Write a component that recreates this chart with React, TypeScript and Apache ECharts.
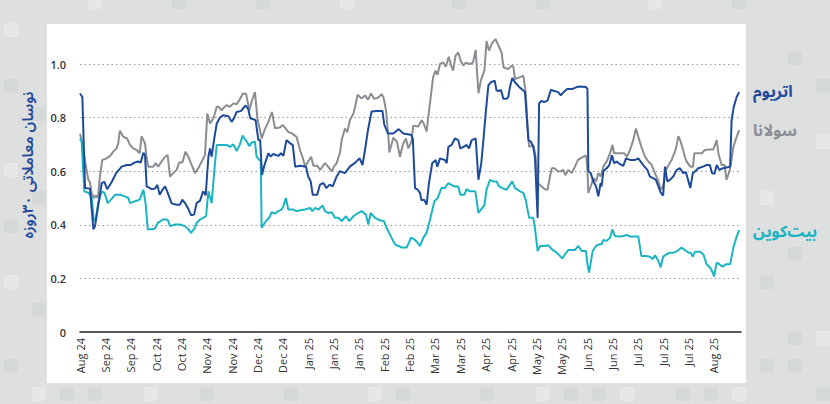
import React, { useEffect, useRef } from 'react';
import * as echarts from 'echarts';

// x axis: day index from the first observation; a tick label every 14 days
const xTickLabels = [
  'Aug 24', 'Sep 24', 'Sep 24', 'Oct 24', 'Oct 24', 'Nov 24', 'Nov 24', 'Dec 24', 'Dec 24',
  'Jan 25', 'Jan 25', 'Jan 25', 'Feb 25', 'Feb 25', 'Mar 25', 'Mar 25', 'Apr 25', 'Apr 25',
  'May 25', 'May 25', 'Jun 25', 'Jun 25', 'Jul 25', 'Jul 25', 'Jul 25', 'Aug 25',
];
const tickStepDays = 14;
const lastDay = 365;

const yTitle = 'نوسان معاملاتی ۳۰روزه';
const seriesNames = ['اتریوم', 'سولانا', 'بیت‌کوین'];

// اتریوم
const ethData: [number, number][] = [
  [0, 0.89], [1.3, 0.877], [2.8, 0.537], [5.5, 0.535], [7.4, 0.383], [8.3, 0.395], [12, 0.556], [13.5, 0.56],
  [15, 0.533], [17.5, 0.56], [20, 0.593], [23, 0.617], [25.8, 0.623], [28, 0.623], [30, 0.632], [32, 0.636],
  [33.5, 0.632], [35, 0.669], [35.9, 0.66], [36.8, 0.543], [39.6, 0.533], [41.4, 0.535], [42.7, 0.549], [44, 0.512],
  [45.5, 0.53], [47, 0.543], [48.4, 0.52], [50.6, 0.48], [53.4, 0.475], [55.2, 0.475], [56.5, 0.494], [58, 0.481],
  [60, 0.457], [61.3, 0.436], [63, 0.438], [64.4, 0.481], [66.3, 0.49], [68, 0.525], [69.4, 0.51], [70.9, 0.654],
  [71.8, 0.685], [72.7, 0.654], [74, 0.716], [75.5, 0.778], [77.3, 0.8], [79, 0.809], [82, 0.805], [83.7, 0.784],
  [85.2, 0.8], [86.5, 0.821], [89, 0.825], [90.7, 0.84], [91.5, 0.845], [93, 0.83], [94, 0.797], [95.7, 0.794],
  [97, 0.79], [98.5, 0.716], [99.5, 0.716], [100.5, 0.586], [101.6, 0.617], [104, 0.667], [105.3, 0.655], [106.8, 0.664],
  [109.5, 0.657], [111, 0.667], [112.3, 0.657], [114, 0.716], [116, 0.704], [117.5, 0.698], [118.8, 0.617], [121.5, 0.62],
  [124.8, 0.617], [126, 0.58], [127.4, 0.562], [128.5, 0.512], [131, 0.512], [132.5, 0.55], [134.4, 0.556], [136, 0.537],
  [137.8, 0.55], [139.5, 0.543], [141.7, 0.58], [143.5, 0.6], [146.3, 0.593], [149, 0.617], [152, 0.632], [154.4, 0.648],
  [156, 0.623], [157.4, 0.68], [159, 0.753], [161, 0.823], [163.7, 0.825], [167, 0.825], [168, 0.775], [170, 0.741],
  [173, 0.741], [176, 0.757], [178.5, 0.741], [181, 0.738], [183, 0.735], [183.8, 0.72], [185, 0.537], [186.5, 0.531],
  [187.7, 0.519], [188.6, 0.491], [190, 0.494], [191.4, 0.475], [192.7, 0.556], [194.5, 0.63], [196.4, 0.642], [197.3, 0.617],
  [198.8, 0.648], [201.5, 0.642], [202.5, 0.63], [203.4, 0.691], [205.2, 0.698], [207, 0.722], [208.9, 0.716], [210, 0.685],
  [211.8, 0.691], [213.5, 0.698], [214.8, 0.685], [216.3, 0.716], [218.5, 0.722], [220, 0.568], [221.6, 0.63], [223, 0.735],
  [224, 0.815], [225.5, 0.92], [227, 0.932], [229, 0.938], [230, 0.901], [231.3, 0.899], [232.4, 0.904], [233.8, 0.87],
  [235.6, 0.87], [236.5, 0.877], [237.4, 0.914], [238.7, 0.948], [240.2, 0.932], [243, 0.911], [244.8, 0.901], [245.7, 0.895],
  [247.6, 0.716], [249, 0.71], [250.3, 0.691], [251.2, 0.654], [252.7, 0.426], [253.5, 0.852], [254.6, 0.862], [256.4, 0.858],
  [258.2, 0.864], [260, 0.904], [261.9, 0.899], [264, 0.895], [265.5, 0.883], [267, 0.895], [269, 0.907], [272, 0.907],
  [274.3, 0.914], [276, 0.916], [279.4, 0.914], [280.2, 0.907], [280.7, 0.6], [282, 0.593], [283.5, 0.562], [285, 0.543],
  [286.2, 0.506], [287.5, 0.556], [288, 0.543], [289, 0.6], [290.8, 0.611], [292.3, 0.623], [293.8, 0.66], [294.9, 0.63],
  [296.4, 0.636], [298, 0.627], [300, 0.62], [301.5, 0.648], [303.7, 0.642], [306.5, 0.642], [308.3, 0.648], [309.6, 0.636],
  [311, 0.623], [313.3, 0.605], [314.7, 0.58], [316.5, 0.574], [318, 0.568], [319.4, 0.543], [320.6, 0.521], [322, 0.509],
  [323, 0.617], [324.3, 0.562], [325.8, 0.568], [327.6, 0.58], [329.5, 0.605], [331.3, 0.611], [333.1, 0.593], [334.6, 0.596],
  [336, 0.562], [337, 0.537], [338.4, 0.593], [339.6, 0.599], [341.4, 0.611], [344, 0.617], [346, 0.623], [347.8, 0.623],
  [349, 0.593], [350.3, 0.59], [351.6, 0.623], [353, 0.605], [355, 0.611], [357, 0.614], [359, 0.617], [359.8, 0.79],
  [361, 0.84], [362.6, 0.877], [364, 0.895],
];

// سولانا
const solData: [number, number][] = [
  [0, 0.74], [1.5, 0.7], [3, 0.63], [4.6, 0.568], [5.5, 0.56], [6.4, 0.519], [7.7, 0.5], [8.7, 0.51], [9.8, 0.5],
  [11, 0.58], [12.3, 0.642], [14.7, 0.648], [16.6, 0.657], [18.4, 0.673], [20.2, 0.685], [21.1, 0.704], [22, 0.751],
  [24, 0.728], [26, 0.722], [27.6, 0.698], [29.4, 0.685], [31.3, 0.679], [33, 0.667], [34, 0.731], [35.9, 0.704],
  [36.8, 0.65], [37.7, 0.617], [40.5, 0.617], [41.8, 0.63], [43.2, 0.617], [45, 0.636], [47, 0.654], [48.4, 0.66],
  [49.7, 0.58], [51.5, 0.593], [53.4, 0.605], [54.7, 0.632], [56.5, 0.632], [58.3, 0.673], [59.8, 0.654], [61.7, 0.623],
  [63.5, 0.593], [65.3, 0.611], [67.2, 0.636], [69, 0.66], [70.3, 0.815], [71.8, 0.778], [73.6, 0.796], [75.5, 0.84],
  [76.4, 0.842], [78.2, 0.827], [79.5, 0.838], [81, 0.847], [82.5, 0.84], [84.7, 0.853], [86.5, 0.85], [88, 0.865],
  [90, 0.89], [91.7, 0.889], [93.5, 0.827], [94.8, 0.86], [96.6, 0.895], [98, 0.796], [99.4, 0.753], [100.3, 0.722],
  [102, 0.755], [104, 0.784], [106, 0.821], [107.7, 0.76], [110.4, 0.763], [112, 0.772], [113.5, 0.76], [115, 0.747],
  [117, 0.741], [119.6, 0.728], [121.5, 0.679], [123.3, 0.644], [124.3, 0.617], [126, 0.636], [127.6, 0.654], [128.9, 0.62],
  [131, 0.62], [132.6, 0.605], [135.3, 0.63], [137, 0.617], [139, 0.599], [140.3, 0.618], [141.7, 0.63], [143.6, 0.67],
  [144.5, 0.716], [146.3, 0.759], [147.6, 0.745], [149, 0.79], [151, 0.815], [152.2, 0.85], [153.3, 0.885], [155.5, 0.871],
  [157.4, 0.883], [159, 0.867], [160.7, 0.89], [162.5, 0.87], [164.7, 0.875], [166.6, 0.887], [167.6, 0.875], [169, 0.827],
  [170.3, 0.728], [170.8, 0.67], [173, 0.725], [175, 0.71], [176.7, 0.654], [178.2, 0.698], [180, 0.722], [181.3, 0.685],
  [183, 0.71], [184, 0.77], [186.8, 0.767], [188.7, 0.79], [190, 0.775], [191.4, 0.748], [193, 0.84], [195, 0.951],
  [196.3, 0.975], [197.4, 0.96], [198.8, 1.0], [200.6, 1.006], [202, 0.99], [203.6, 1.027], [204.7, 1.0], [206, 0.975],
  [207.4, 1.031], [208.9, 1.043], [210.3, 1.01], [211.7, 0.994], [213, 1.005], [215.3, 1.0], [217, 1.005], [218.5, 1.052],
  [220, 0.891], [221.4, 0.94], [223.3, 0.975], [224.5, 1.086], [225.8, 1.05], [227.7, 1.08], [229.5, 1.093], [231, 1.07],
  [232.8, 1.043], [233.8, 0.988], [236.5, 0.981], [238.4, 0.994], [239.3, 0.99], [240.2, 0.944], [243, 0.951], [244.8, 0.957],
  [246.1, 0.895], [247.2, 0.765], [248, 0.691], [250.3, 0.698], [251.6, 0.654], [252.7, 0.556], [255, 0.543], [256.7, 0.533],
  [258.2, 0.531], [259.5, 0.58], [260.5, 0.611], [262, 0.611], [264, 0.599], [265.5, 0.6], [266.9, 0.605], [268, 0.585],
  [269.7, 0.605], [271.5, 0.593], [273.3, 0.617], [275, 0.642], [278, 0.654], [279.5, 0.658], [280.2, 0.605], [280.7, 0.519],
  [282, 0.543], [283.5, 0.574], [285, 0.562], [286.2, 0.593], [287.5, 0.58], [289, 0.617], [290.8, 0.636], [292.7, 0.667],
  [294, 0.698], [294.9, 0.667], [297, 0.667], [299, 0.667], [300.5, 0.667], [302, 0.654], [303.7, 0.679], [305.5, 0.716],
  [307, 0.759], [308.3, 0.728], [310, 0.691], [312, 0.654], [313.8, 0.636], [315.7, 0.623], [317.5, 0.593], [319.4, 0.562],
  [320.6, 0.531], [322, 0.543], [323.6, 0.605], [325, 0.623], [326.7, 0.642], [328.5, 0.673], [329.5, 0.698], [330.4, 0.731],
  [331.7, 0.71], [332.8, 0.685], [334, 0.654], [335, 0.636], [337, 0.617], [338.5, 0.617], [339.2, 0.667], [341, 0.667],
  [343.4, 0.667], [345, 0.679], [347.4, 0.681], [349.7, 0.681], [351.6, 0.716], [352.5, 0.667], [354.3, 0.623], [356, 0.623],
  [357, 0.568], [358.6, 0.599], [359.3, 0.623], [360.8, 0.691], [362.6, 0.728], [364, 0.753],
];

// بیت‌کوین
const btcData: [number, number][] = [
  [0, 0.722], [0.9, 0.71], [2.4, 0.525], [4.6, 0.519], [6.4, 0.506], [7.7, 0.414], [8.7, 0.42], [10, 0.481], [12, 0.525],
  [13.5, 0.519], [15.3, 0.481], [17.1, 0.494], [19.3, 0.512], [22, 0.512], [24.8, 0.506], [26.7, 0.5], [27.6, 0.481],
  [30.4, 0.488], [33, 0.494], [35, 0.531], [36.3, 0.475], [37.4, 0.383], [39.6, 0.383], [41.4, 0.386], [42.9, 0.407],
  [44.7, 0.414], [45.5, 0.42], [47.9, 0.42], [48.8, 0.414], [49.7, 0.395], [52.5, 0.401], [55.2, 0.401], [58, 0.395],
  [59.8, 0.383], [61.3, 0.37], [63.2, 0.386], [64.4, 0.407], [66.3, 0.42], [68, 0.426], [69.6, 0.432], [70.9, 0.525],
  [72.7, 0.481], [74.2, 0.605], [75.5, 0.698], [78.2, 0.698], [81, 0.698], [82.8, 0.691], [84.7, 0.7], [86.5, 0.675],
  [88.3, 0.7], [89.8, 0.733], [91, 0.72], [92, 0.712], [93.5, 0.693], [94.8, 0.707], [96.6, 0.71], [97.5, 0.654],
  [99, 0.642], [99.8, 0.64], [100.3, 0.389], [102.7, 0.414], [104.5, 0.426], [105.8, 0.447], [107.7, 0.442], [109.5, 0.451],
  [111.3, 0.457], [112.3, 0.469], [113.7, 0.5], [115, 0.457], [117.8, 0.457], [119.6, 0.451], [121.5, 0.454], [124.3, 0.457],
  [127, 0.463], [128.3, 0.451], [129.8, 0.463], [131.6, 0.457], [134, 0.472], [135.3, 0.451], [137, 0.444], [139, 0.447],
  [140.8, 0.426], [142.6, 0.426], [144.5, 0.414], [146.9, 0.432], [148.7, 0.414], [151, 0.432], [153, 0.442], [155.5, 0.451],
  [157.9, 0.438], [159.2, 0.401], [160.5, 0.444], [162.9, 0.426], [165.6, 0.417], [167.8, 0.414], [169.7, 0.383], [172, 0.352],
  [173.9, 0.327], [175.8, 0.321], [177.6, 0.315], [180.4, 0.315], [182.8, 0.352], [184.6, 0.346], [186.4, 0.333], [187.7, 0.321],
  [189.6, 0.352], [191.4, 0.37], [193.3, 0.42], [195.7, 0.488], [197.5, 0.5], [199.6, 0.537], [201.6, 0.537], [203.4, 0.556],
  [205, 0.549], [207, 0.543], [208.9, 0.543], [210, 0.512], [212.2, 0.512], [213.5, 0.533], [215.3, 0.525], [218.3, 0.525],
  [220, 0.444], [221.4, 0.457], [223.3, 0.472], [224.5, 0.531], [226.4, 0.568], [228.2, 0.562], [230, 0.562], [231.4, 0.543],
  [233.2, 0.537], [235.6, 0.531], [237.4, 0.549], [238.7, 0.562], [240.2, 0.537], [243, 0.525], [244.8, 0.519], [246.1, 0.494],
  [248, 0.426], [250.3, 0.426], [251.3, 0.383], [252.7, 0.302], [254, 0.321], [256.7, 0.321], [258.5, 0.324], [260.5, 0.309],
  [263.2, 0.296], [265, 0.284], [266.4, 0.274], [267.8, 0.29], [269.7, 0.306], [273.3, 0.306], [275.2, 0.321], [277, 0.302],
  [279.4, 0.302], [280.2, 0.253], [281.1, 0.222], [282, 0.259], [283.1, 0.302], [285, 0.321], [286.8, 0.327], [288, 0.327],
  [289, 0.343], [290.8, 0.34], [292.7, 0.352], [294, 0.383], [295.4, 0.358], [298, 0.356], [300, 0.358], [301.9, 0.362],
  [304, 0.356], [306.5, 0.356], [308.3, 0.356], [310, 0.284], [312.5, 0.284], [314.7, 0.281], [316.2, 0.272], [317.5, 0.286],
  [319.4, 0.265], [320.6, 0.241], [322, 0.281], [323.9, 0.29], [325.8, 0.296], [327.7, 0.296], [329.8, 0.302], [332.2, 0.315],
  [334, 0.306], [336, 0.296], [337.3, 0.296], [338.3, 0.281], [339.6, 0.299], [342.3, 0.299], [344.2, 0.29], [346, 0.253],
  [347.9, 0.241], [349.4, 0.222], [350.1, 0.207], [351.6, 0.259], [353, 0.253], [354.8, 0.244], [356.7, 0.253], [359, 0.253],
  [360.8, 0.315], [362.6, 0.356], [364, 0.38],
];

const ETH_COLOR = '#1e4a9a';
const SOL_COLOR = '#8a8d91';
const BTC_COLOR = '#1bb4c3';
const ARABIC_FONT = "'Noto Sans Arabic', Vazirmatn, 'DejaVu Sans', sans-serif";
const LATIN_FONT = "'Open Sans', 'Noto Sans', sans-serif";

// decorative background squares (column, row) on a 28px grid
const bgSquares: [number, number][] = [
  [0, 0], [0, 2], [1, 3], [0, 5], [1, 6], [0, 7], [0, 9], [1, 10], [0, 12], [1, 13],
  [2, 13], [3, 13], [5, 13], [7, 13], [10, 13], [13, 13], [14, 13], [17, 13], [19, 13], [20, 13],
  [21, 13], [22, 13], [24, 13], [25, 13], [26, 13], [29, 13],
  [29, 2], [27, 6], [28, 8], [28, 11], [29, 11], [27, 12], [28, 12], [29, 4], [27, 9], [28, 1],
  [3, -1], [6, -1], [9, -1], [12, -1], [16, -1], [19, -1], [23, -1], [26, -1],
];

export default function App() {
  const ref = useRef<HTMLDivElement>(null);

  useEffect(() => {
    if (!ref.current) return;
    const chart = echarts.init(ref.current, null, { renderer: 'svg' });
    const line = (name: string, data: [number, number][], color: string, z: number) => ({
      name,
      type: 'line',
      data,
      showSymbol: false,
      symbol: 'none',
      clip: false,
      z,
      lineStyle: { color, width: 2 },
      itemStyle: { color },
    });
    chart.setOption({
      animation: false,
      backgroundColor: 'transparent',
      grid: { left: 80, right: 89, top: 10.4, bottom: 72 },
      xAxis: {
        type: 'value',
        min: 0,
        max: lastDay,
        interval: tickStepDays,
        axisLine: { show: true, lineStyle: { color: '#222', width: 1.5 } },
        axisTick: { show: false },
        splitLine: { show: false },
        axisLabel: {
          rotate: 90,
          margin: 6,
          fontSize: 11,
          color: '#333',
          fontFamily: LATIN_FONT,
          showMaxLabel: false,
          formatter: (v: number) => {
            const i = v / tickStepDays;
            return Number.isInteger(i) && i < xTickLabels.length ? xTickLabels[i] : '';
          },
        },
      },
      yAxis: {
        type: 'value',
        min: 0,
        max: 1.2,
        interval: 0.2,
        axisLine: { show: false },
        axisTick: { show: false },
        splitLine: {
          show: true,
          showMinLine: false,
          showMaxLine: false,
          lineStyle: { color: '#9a9a9a', type: [1.5, 3], width: 1 },
        },
        axisLabel: {
          margin: 14,
          fontSize: 11,
          fontWeight: 600,
          color: '#333',
          fontFamily: LATIN_FONT,
          showMaxLabel: false,
          formatter: (v: number) => (v === 0 ? '0' : v.toFixed(1)),
        },
      },
      series: [
        line(seriesNames[1], solData, SOL_COLOR, 2),
        line(seriesNames[2], btcData, BTC_COLOR, 3),
        line(seriesNames[0], ethData, ETH_COLOR, 4),
      ],
      graphic: [
        {
          type: 'text',
          x: 28,
          y: 165,
          rotation: Math.PI / 2,
          style: {
            text: yTitle,
            fill: '#24499a',
            font: `600 15px ${ARABIC_FONT}`,
            textAlign: 'center',
            textVerticalAlign: 'middle',
          },
        },
        {
          type: 'text',
          x: 753,
          y: 92,
          style: { text: seriesNames[0], fill: ETH_COLOR, font: `bold 16px ${ARABIC_FONT}`, textAlign: 'left', textVerticalAlign: 'middle' },
        },
        {
          type: 'text',
          x: 753,
          y: 131,
          style: { text: seriesNames[1], fill: SOL_COLOR, font: `bold 16px ${ARABIC_FONT}`, textAlign: 'left', textVerticalAlign: 'middle' },
        },
        {
          type: 'text',
          x: 753,
          y: 232,
          style: { text: seriesNames[2], fill: BTC_COLOR, font: `bold 16px ${ARABIC_FONT}`, textAlign: 'left', textVerticalAlign: 'middle' },
        },
      ],
    });
    return () => chart.dispose();
  }, []);

  return (
    <div style={{ position: 'fixed', left: 0, top: 0, width: 830, height: 404, background: '#dedfdf', overflow: 'hidden' }}>
      {bgSquares.map(([c, r], i) => (
        <div
          key={i}
          style={{
            position: 'absolute',
            left: 4 + c * 28,
            top: 23 + r * 28,
            width: 14,
            height: 14,
            background: i % 3 === 0 ? '#e6e7e7' : '#d5d9d7',
          }}
        />
      ))}
      <div style={{ position: 'absolute', left: 47, top: 24, width: 699, height: 359, background: '#ffffff' }} />
      <div ref={ref} style={{ position: 'absolute', left: 0, top: 0, width: 830, height: 404 }} />
    </div>
  );
}
